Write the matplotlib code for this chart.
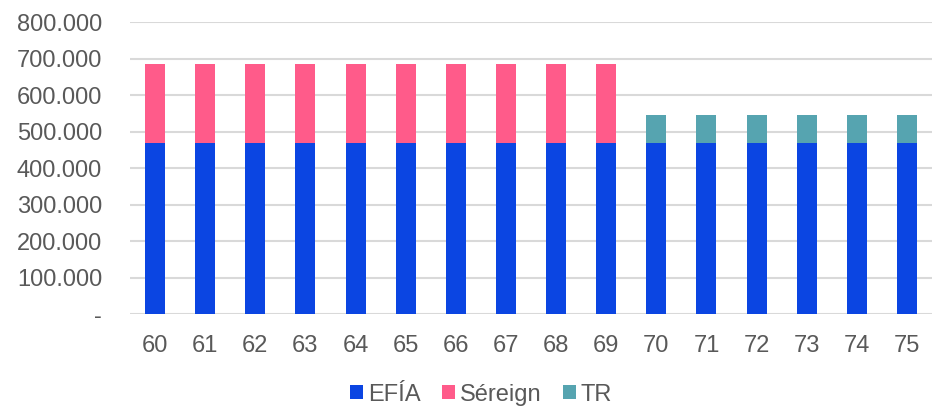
import numpy as np
import matplotlib.pyplot as plt
from matplotlib.ticker import FuncFormatter

plt.rcParams['font.family'] = ['Liberation Sans', 'DejaVu Sans']

ages = [str(a) for a in range(60, 76)]
efia = [469000] * 16
sereign = [217000] * 10 + [0] * 6
tr = [0] * 10 + [76000] * 6

c_efia = '#0B45E2'
c_ser = '#FF5B8A'
c_tr = '#56A4B0'
grey = '#595959'

fig = plt.figure(figsize=(9.37, 4.08), dpi=100)
ax = fig.add_axes([0.1387, 0.2297, 0.8560, 0.7163])

x = np.arange(len(ages))
ax.bar(x, efia, width=0.4, color=c_efia, label='EFÍA', zorder=3)
ax.bar(x, sereign, width=0.4, bottom=efia, color=c_ser, label='Séreign', zorder=3)
ax.bar(x, tr, width=0.4, bottom=efia, color=c_tr, label='TR', zorder=3)

ax.set_ylim(0, 800000)
ax.set_xlim(-0.5, len(ages) - 0.5)
ax.set_yticks(np.arange(0, 800001, 100000))
ax.yaxis.set_major_formatter(FuncFormatter(
    lambda v, p: '-' if v == 0 else f'{int(v):,}'.replace(',', '.')))
ax.set_xticks(x)
ax.set_xticklabels(ages)
ax.grid(axis='y', color='#D9D9D9', linewidth=1.5, zorder=0)
for s in ax.spines.values():
    s.set_visible(False)
ax.tick_params(length=0, labelsize=17, colors=grey)
ax.tick_params(axis='x', pad=15)
ax.tick_params(axis='y', pad=20)

ax.legend(loc='center', bbox_to_anchor=(0.4377, -0.275), ncol=3, frameon=False,
          fontsize=17, labelcolor=grey, handlelength=0.55, handleheight=0.55,
          handletextpad=0.2, columnspacing=0.9, borderpad=0)

fig.savefig('out.png', dpi=100)
